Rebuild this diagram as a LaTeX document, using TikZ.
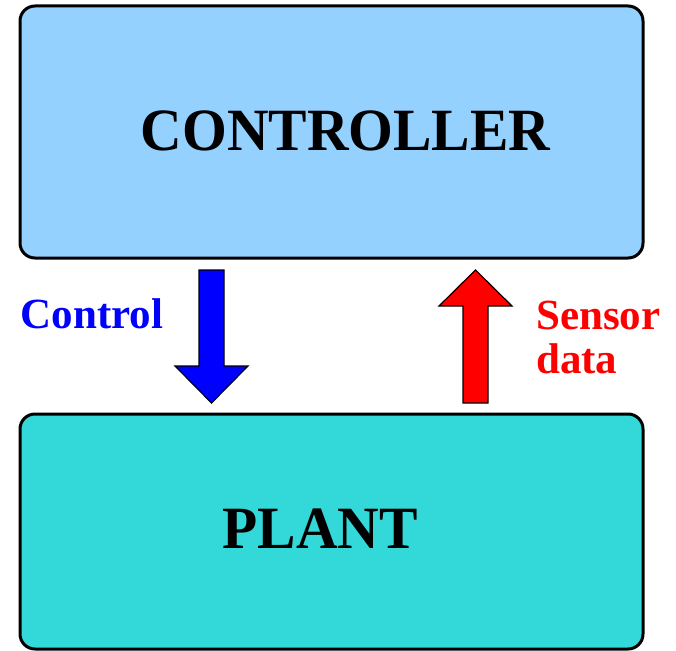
\documentclass[tikz,border=0pt]{standalone}
\usepackage{fontspec}
\setmainfont{Liberation Serif}
\definecolor{ctrlblue}{RGB}{148,209,255}
\definecolor{plantcyan}{RGB}{51,217,217}
\definecolor{arrblue}{RGB}{0,0,255}
\definecolor{arrred}{RGB}{255,0,0}
\begin{document}
\begin{tikzpicture}[x=1pt,y=-1pt,
  blockbox/.style={draw=black,line width=3pt,rounded corners=15pt},
  bigtext/.style={inner sep=0pt,anchor=base,font=\fontsize{60}{60}\selectfont\bfseries},
  smalltext/.style={inner sep=0pt,font=\fontsize{43}{43}\selectfont\bfseries},
  blockarrow/.style={draw=black,line width=1.2pt,line join=miter}]
\useasboundingbox (0,0) rectangle (676,650);
% boxes
\draw[blockbox,fill=ctrlblue] (20,6) rectangle (643,258);
\draw[blockbox,fill=plantcyan] (20,414) rectangle (643,649);
\node[bigtext] (ctrl) at (345.5,150) {\scalebox{0.96}[1]{CONTROLLER}};
\node[bigtext] (plant) at (320,548) {\scalebox{0.96}[1]{PLANT}};
% arrows
\draw[blockarrow,fill=arrblue] (199,270) -- (224,270) -- (224,366) -- (248,366) -- (211.5,403) -- (175,366) -- (199,366) -- cycle;
\draw[blockarrow,fill=arrred] (463,403) -- (488,403) -- (488,306) -- (512,306) -- (475.5,270) -- (439,306) -- (463,306) -- cycle;
% labels
\node[smalltext,anchor=base,text=arrblue] (control) at (92,328) {Control};
\node[smalltext,anchor=base west,text=arrred] (sensor) at (536,329) {Sensor};
\node[smalltext,anchor=base west,text=arrred] (data) at (536,373) {data};
\end{tikzpicture}
\end{document}
